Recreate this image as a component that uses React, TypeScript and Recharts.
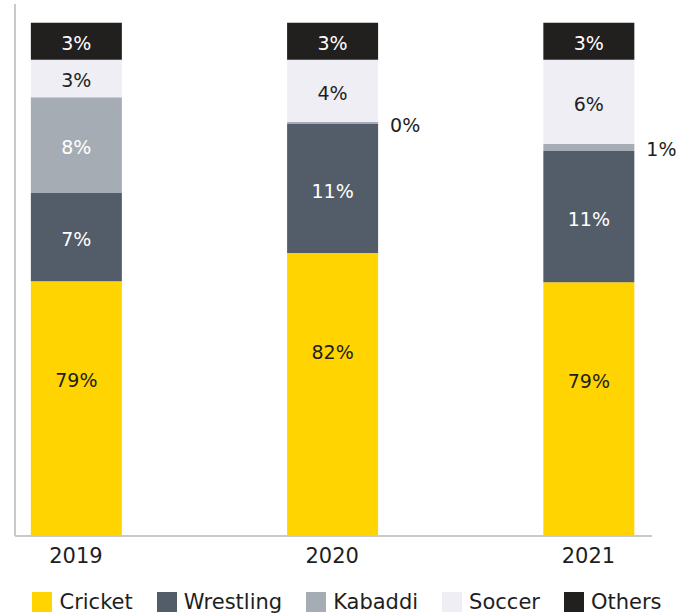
import React from 'react';
import { BarChart, Bar, XAxis, YAxis, LabelList } from 'recharts';

// Categories
const years = ['2019', '2020', '2021'];

// Series values (share, %)
const cricket = [79.36, 81.6, 79.28];
const wrestling = [7.04, 10.32, 10.48];
const kabaddi = [7.66, 0.16, 0.56];
const soccer = [2.98, 4.96, 6.72];
const others = [2.96, 2.96, 2.96];

// Data labels as printed on the chart
const cricketLabels = ['79%', '82%', '79%'];
const wrestlingLabels = ['7%', '11%', '11%'];
const kabaddiLabels = ['8%', '0%', '1%'];
const soccerLabels = ['3%', '4%', '6%'];
const othersLabels = ['3%', '3%', '3%'];

const FONT = '"DejaVu Sans", sans-serif';
const DARK = '#1e1e1e';

const data = years.map((year, i) => ({
  x: i,
  year,
  cricket: cricket[i],
  wrestling: wrestling[i],
  kabaddi: kabaddi[i],
  soccer: soccer[i],
  others: others[i],
}));

type Series = {
  key: string;
  name: string;
  color: string;
  labels: string[];
  labelColor: string;
  mode: 'center' | 'top' | 'auto';
};

const series: Series[] = [
  { key: 'cricket', name: 'Cricket', color: '#FFD400', labels: cricketLabels, labelColor: DARK, mode: 'top' },
  { key: 'wrestling', name: 'Wrestling', color: '#535D69', labels: wrestlingLabels, labelColor: '#ffffff', mode: 'center' },
  { key: 'kabaddi', name: 'Kabaddi', color: '#A6ACB3', labels: kabaddiLabels, labelColor: '#ffffff', mode: 'auto' },
  { key: 'soccer', name: 'Soccer', color: '#EEEEF4', labels: soccerLabels, labelColor: DARK, mode: 'center' },
  { key: 'others', name: 'Others', color: '#221F1F', labels: othersLabels, labelColor: '#ffffff', mode: 'center' },
];

const makeLabel = (s: Series) => (props: any) => {
  const x = Number(props.x);
  const y = Number(props.y);
  const w = Number(props.width);
  const h = Number(props.height);
  const idx = Number(props.index);
  const text = s.labels[idx];
  if (text == null) return null;
  const top = Math.min(y, y + h);
  const hh = Math.abs(h);
  let tx = x + w / 2;
  let ty = top + hh / 2 + 9;
  let anchor: 'middle' | 'start' = 'middle';
  let fill = s.labelColor;
  if (s.mode === 'top') {
    ty = top + 97 + 9;
  } else if (s.mode === 'auto' && hh < 20) {
    tx = x + w + 12;
    anchor = 'start';
    fill = DARK;
  }
  return (
    <text
      key={`${s.key}-${idx}`}
      x={tx}
      y={ty}
      textAnchor={anchor}
      fill={fill}
      fontSize={19}
      fontFamily={FONT}
    >
      {text}
    </text>
  );
};

const Legend = () => (
  <div
    style={{
      position: 'absolute',
      left: 0,
      top: 591,
      width: 694,
      display: 'flex',
      justifyContent: 'center',
      alignItems: 'center',
      gap: 24,
      fontFamily: FONT,
      fontSize: 21,
      color: DARK,
      lineHeight: '22px',
    }}
  >
    {series.map((s) => (
      <div key={s.key} style={{ display: 'flex', alignItems: 'center' }}>
        <span style={{ display: 'inline-block', width: 20, height: 20, background: s.color, marginRight: 7 }} />
        <span>{s.name}</span>
      </div>
    ))}
  </div>
);

export default function App() {
  return (
    <div style={{ position: 'absolute', left: 0, top: 0, width: 680, height: 613, background: '#fff', fontFamily: FONT }}>
      <BarChart
        width={680}
        height={580}
        data={data}
        margin={{ top: 4, right: 28, left: 14, bottom: 0 }}
      >
        <XAxis
          type="number"
          dataKey="x"
          domain={[-0.238, 2.248]}
          allowDataOverflow
          ticks={[0, 1, 2]}
          interval={0}
          tickFormatter={(v: number) => years[v] ?? ''}
          tickLine={false}
          tickMargin={6}
          axisLine={{ stroke: '#C6C9CD', strokeWidth: 2 }}
          tick={{ fill: DARK, fontSize: 21, fontFamily: FONT }}
          height={44}
        />
        <YAxis
          type="number"
          domain={[59, 101.5]}
          allowDataOverflow
          width={1}
          tick={false}
          tickLine={false}
          axisLine={{ stroke: '#C6C9CD', strokeWidth: 2 }}
        />
        {series.map((s) => (
          <Bar
            key={s.key}
            dataKey={s.key}
            name={s.name}
            stackId="a"
            fill={s.color}
            barSize={91}
            isAnimationActive={false}
          >
            <LabelList dataKey={s.key} content={makeLabel(s)} />
          </Bar>
        ))}
      </BarChart>
      <Legend />
    </div>
  );
}
